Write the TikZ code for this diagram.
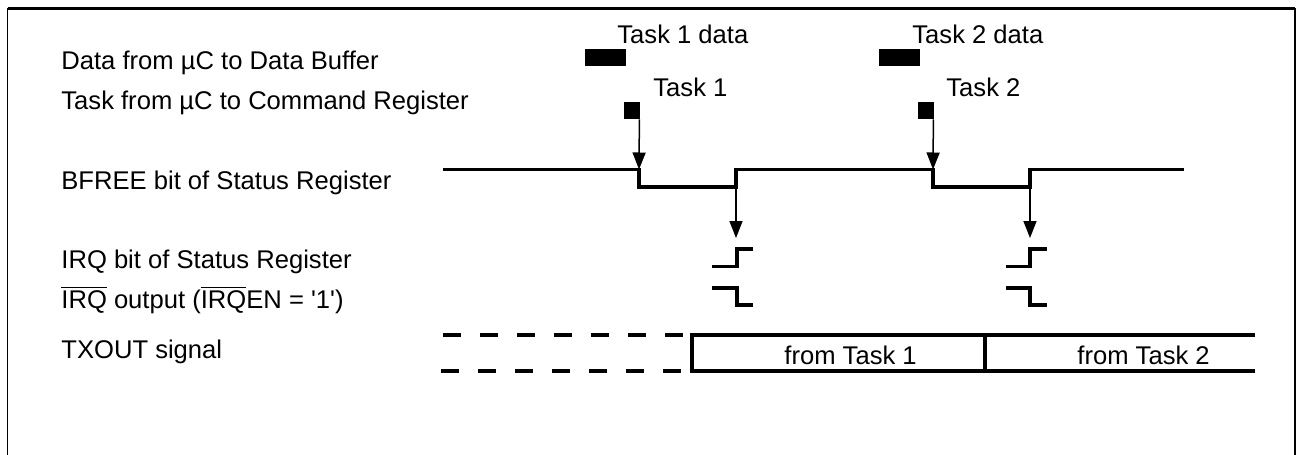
\documentclass[tikz,border=0pt]{standalone}
\usepackage{fontspec}
\setmainfont{Liberation Sans}
\usetikzlibrary{arrows.meta}
\usetikzlibrary{calc}
\usetikzlibrary{positioning}

\newcommand{\ovl}[1]{$\overline{\mbox{#1}}$}

\begin{document}
\begin{tikzpicture}[x=0.5pt, y=-0.5pt,
  every node/.style={inner sep=0pt, font=\fontsize{12.8}{15}\selectfont},
  lbl/.style={anchor=base west},
  blk/.style={draw=none, fill=black},
  wave/.style={line width=1.6pt},
  sig/.style={line width=0.75pt, -{Triangle[length=8.5pt,width=6.5pt]}}]
\useasboundingbox (0,0) rectangle (1298,455);
% frame, open at the bottom
\draw[line width=0.8pt] (7.5,455) -- (7.5,8.5) -- (1295,8.5) -- (1295,455);
\draw[line width=1.3pt] (7.5,8.5) -- (1295,8.5);

% row labels
\node[lbl] (LData) at (61,69) {Data from µC to Data Buffer};
\node[lbl] (LTask) at (61,109) {Task from µC to Command Register};
\node[lbl] (LBfree) at (61,189) {BFREE bit of Status Register};
\node[lbl] (LIrq) at (61,268) {IRQ bit of Status Register};
\node[lbl] (LIrqOut) at (61,308) {\ovl{IRQ} output (\ovl{IRQ}EN = \textquotesingle1\textquotesingle)};
\node[lbl] (LTx) at (61,358) {TXOUT signal};

% data and task writes
\node[blk, minimum width=20.5pt, minimum height=8.5pt] (D1) at (605.5,57.5) {};
\node[lbl] (D1txt) at (617,43) {Task 1 data};
\node[blk, minimum width=8pt, minimum height=8.5pt] (T1) at (632,110.5) {};
\node[lbl] (T1txt) at (653,97) {Task 1};
\node[blk, minimum width=20.5pt, minimum height=8.5pt] (D2) at (899,57.5) {};
\node[lbl] (D2txt) at (912,43) {Task 2 data};
\node[blk, minimum width=8pt, minimum height=8.5pt] (T2) at (926,110.5) {};
\node[lbl] (T2txt) at (946,97) {Task 2};

% BFREE waveform
\coordinate (B1) at (639,169.5);
\coordinate (B2) at (736,187);
\coordinate (B3) at (933,169.5);
\coordinate (B4) at (1030,187);
\draw[wave] (443,169.5) -- (B1) -- (639,187) -- (B2) -- (736,169.5) -- (B3)
  -- (933,187) -- (B4) -- (1030,169.5) -- (1184,169.5);

\coordinate (I1) at (736,238);
\coordinate (I2) at (1030,238);
\draw[sig] ([xshift=-0.5pt]T1.south east) -- (B1);
\draw[sig] ([xshift=-0.5pt]T2.south east) -- (B3);
\draw[sig] (B2) -- (I1);
\draw[sig] (B4) -- (I2);

% IRQ bit and IRQ output
\draw[wave] (712,266.5) -- (737,266.5) -- (737,249) -- (753,249);
\draw[wave] (712,288) -- (737,288) -- (737,305) -- (753,305);
\draw[wave] (1006,266.5) -- (1030,266.5) -- (1030,249) -- (1047,249);
\draw[wave] (1006,288) -- (1030,288) -- (1030,305) -- (1047,305);

% TXOUT
\draw[wave, dash pattern=on 9pt off 9.5pt] (443,335) -- (687,335);
\draw[wave, dash pattern=on 9pt off 9.5pt] (441,371) -- (685,371);
\draw[wave] (1255,335) -- (692,335) -- (692,371) -- (1255,371);
\draw[wave] (985,335) -- (985,371);
\node[lbl] (X1) at (784,364) {from Task 1};
\node[lbl] (X2) at (1077,364) {from Task 2};
\end{tikzpicture}
\end{document}
